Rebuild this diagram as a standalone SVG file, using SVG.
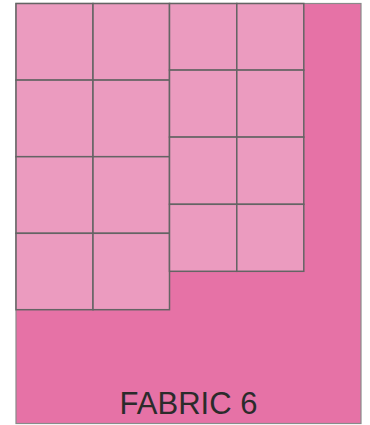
<svg xmlns="http://www.w3.org/2000/svg" width="370" height="425" viewBox="0 0 370 425">
<style>
.bg{fill:#E672A6;stroke:#8a8a8a;stroke-width:1.2}
.cell{fill:#EB9BBF;stroke:#646464;stroke-width:1.5}
.lbl{font-family:"Liberation Sans",Arial,sans-serif;font-size:31px;fill:#2b2b2b}
</style>
<g id="fabric">
<rect class="bg" x="16" y="3.5" width="345" height="420"/>
</g>
<g id="left-grid">
<rect class="cell" x="16" y="3.5" width="77" height="76.6"/>
<rect class="cell" x="93" y="3.5" width="76.5" height="76.6"/>
<rect class="cell" x="16" y="80.1" width="77" height="76.6"/>
<rect class="cell" x="93" y="80.1" width="76.5" height="76.6"/>
<rect class="cell" x="16" y="156.7" width="77" height="76.6"/>
<rect class="cell" x="93" y="156.7" width="76.5" height="76.6"/>
<rect class="cell" x="16" y="233.3" width="77" height="76.4"/>
<rect class="cell" x="93" y="233.3" width="76.5" height="76.4"/>
</g>
<g id="right-grid">
<rect class="cell" x="169.5" y="3.5" width="67.3" height="66.6"/>
<rect class="cell" x="236.8" y="3.5" width="67" height="66.6"/>
<rect class="cell" x="169.5" y="70.1" width="67.3" height="67"/>
<rect class="cell" x="236.8" y="70.1" width="67" height="67"/>
<rect class="cell" x="169.5" y="137.1" width="67.3" height="67.2"/>
<rect class="cell" x="236.8" y="137.1" width="67" height="67.2"/>
<rect class="cell" x="169.5" y="204.3" width="67.3" height="67"/>
<rect class="cell" x="236.8" y="204.3" width="67" height="67"/>
</g>
<text class="lbl" x="188.5" y="414.3" text-anchor="middle">FABRIC 6</text>
</svg>
